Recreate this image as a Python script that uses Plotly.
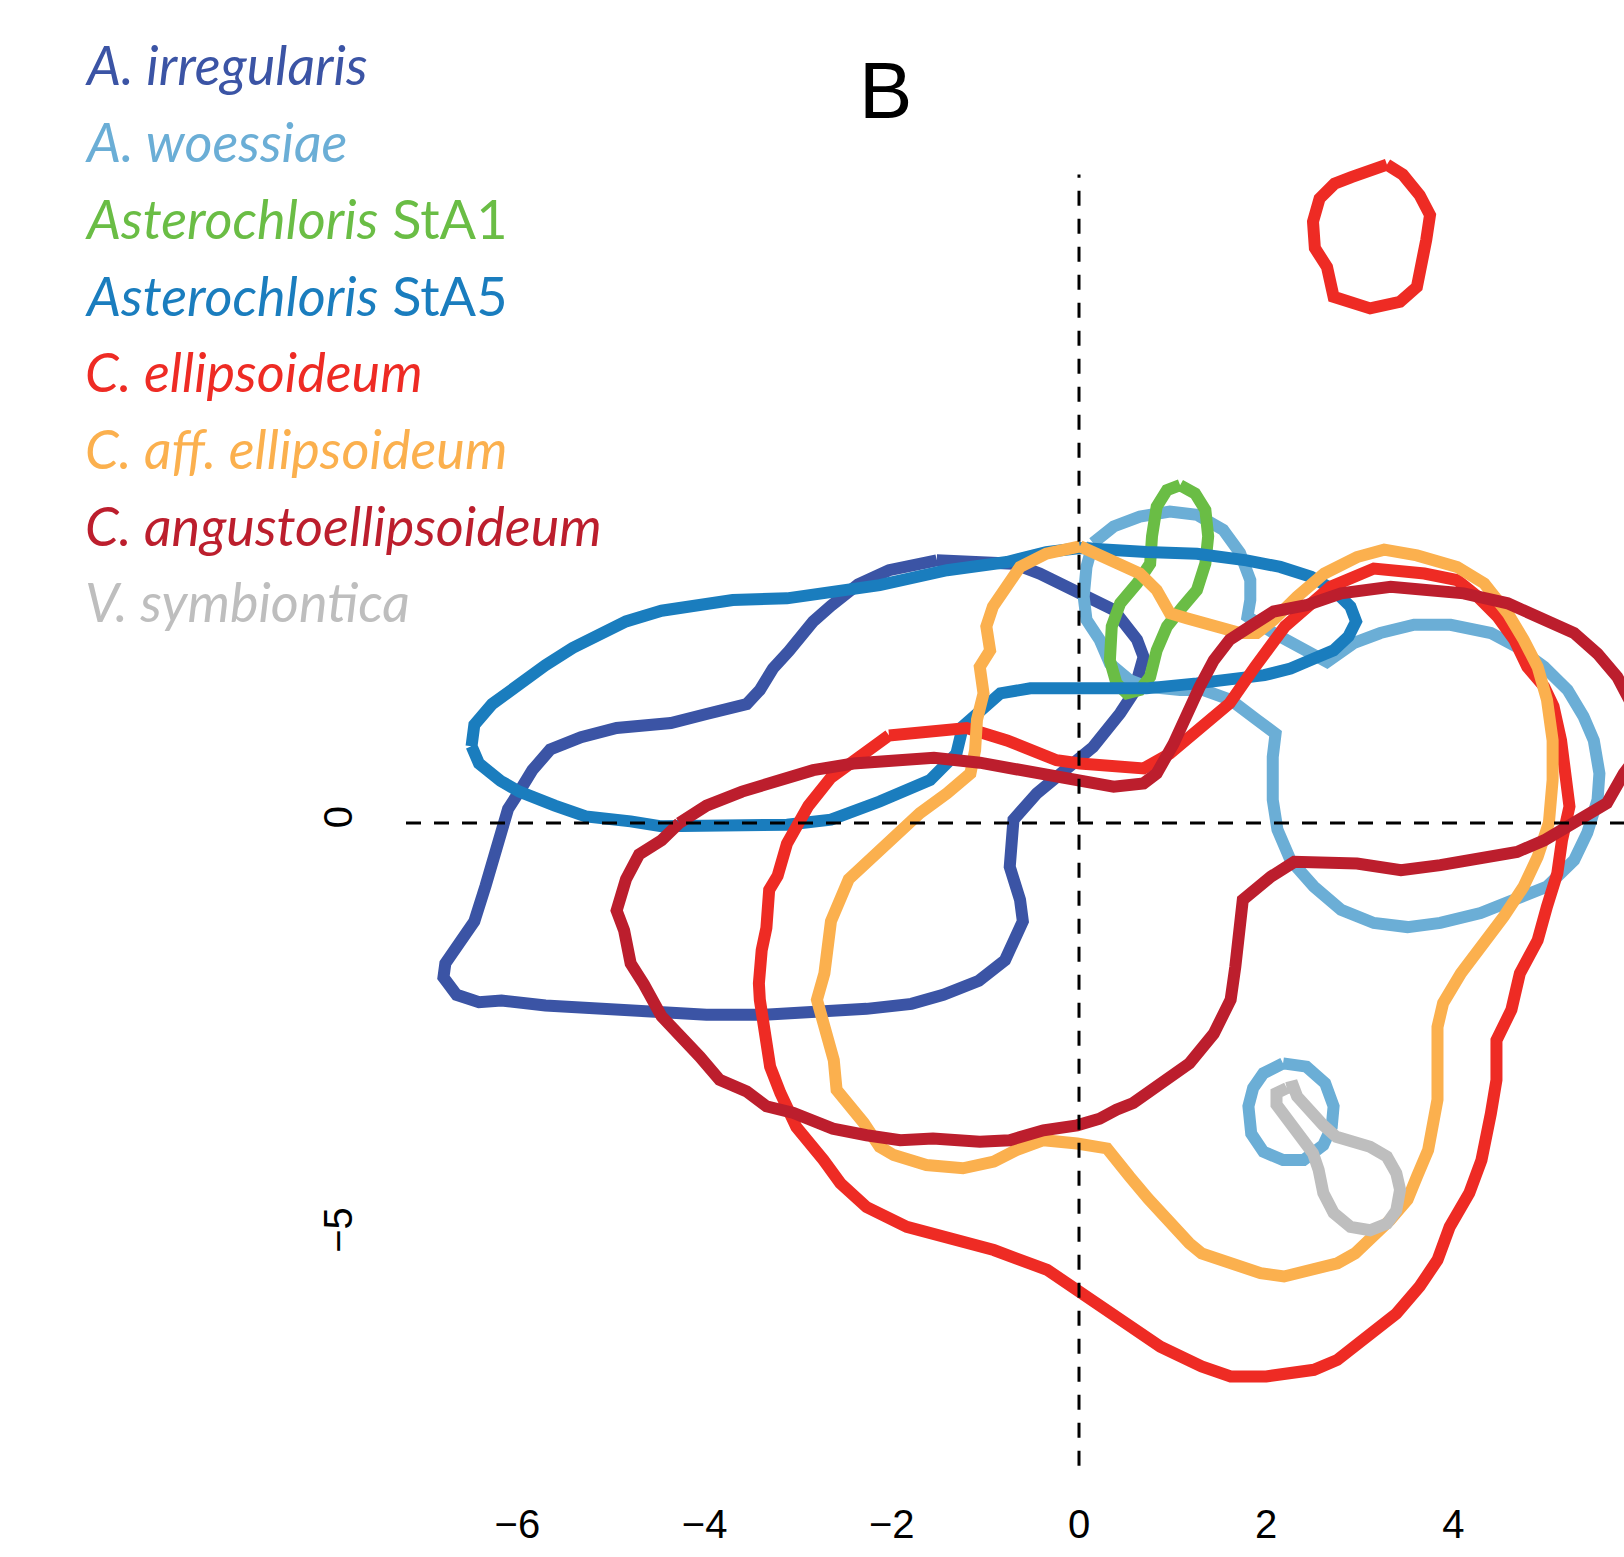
import plotly.graph_objects as go

# ---------------- data ----------------
species = ["A. irregularis", "A. woessiae", "Asterochloris StA1", "Asterochloris StA5",
           "C. ellipsoideum", "C. aff. ellipsoideum", "C. angustoellipsoideum", "V. symbiontica"]
legend_labels = ["<i>A. irregularis</i>", "<i>A. woessiae</i>", "<i>Asterochloris</i> StA1",
                 "<i>Asterochloris</i> StA5", "<i>C. ellipsoideum</i>", "<i>C. aff. ellipsoideum</i>",
                 "<i>C. angustoellipsoideum</i>", "<i>V. symbiontica</i>"]
colors = ["#3B54A5", "#6BAED6", "#6ABD45", "#1A7DBE", "#EE2B24", "#FBB04E", "#BC1E2D", "#BEBEBE"]

x_tick_vals = [-6, -4, -2, 0, 2, 4]
x_tick_text = ["\u22126", "\u22124", "\u22122", "0", "2", "4"]
y_tick_vals = [0, -5]
y_tick_text = ["0", "\u22125"]

a_irregularis_x = [-1.52, -0.70, -0.42, 0.01, 0.37, 0.62, 0.69, 0.58, 0.44, 0.15, -0.17, -0.45, -0.70, -0.74,
                   -0.63, -0.60, -0.79, -1.07, -1.45, -1.79, -2.27, -2.84, -3.36, -3.98, -4.55, -5.13, -5.70,
                   -6.17, -6.41, -6.65, -6.79, -6.77, -6.67, -6.56, -6.46, -6.34, -6.27, -6.18, -6.10, -5.98,
                   -5.84, -5.65, -5.51, -5.32, -4.94, -4.65, -4.36, -3.98, -3.79, -3.55, -3.41, -3.27, -3.10,
                   -2.84, -2.65, -2.36, -2.03, -1.52]
a_irregularis_y = [3.18, 3.14, 3.02, 2.78, 2.58, 2.22, 2.01, 1.57, 1.33, 0.92, 0.60, 0.36, 0.04, -0.53,
                   -0.93, -1.19, -1.66, -1.91, -2.08, -2.19, -2.25, -2.30, -2.32, -2.32, -2.29, -2.25, -2.21,
                   -2.15, -2.17, -2.08, -1.87, -1.70, -1.53, -1.36, -1.19, -0.76, -0.47, -0.08, 0.17, 0.38,
                   0.64, 0.89, 0.96, 1.04, 1.15, 1.19, 1.21, 1.32, 1.36, 1.44, 1.61, 1.87, 2.08,
                   2.44, 2.63, 2.89, 3.06, 3.18]

a_woessiae_x = [0.15, 0.37, 0.65, 0.97, 1.26, 1.54, 1.72, 1.83, 1.83, 1.80, 2.08, 2.44, 2.65, 2.94, 3.22,
                3.58, 3.97, 4.40, 4.68, 4.97, 5.22, 5.39, 5.50, 5.56, 5.54, 5.43, 5.29, 5.00, 4.68, 4.29,
                3.86, 3.51, 3.15, 2.80, 2.51, 2.26, 2.12, 2.07, 2.07, 2.10, 1.90, 1.62, 1.33, 1.08, 0.72,
                0.54, 0.33, 0.22, 0.08, 0.05, 0.08, 0.15]
a_woessiae_y = [3.39, 3.59, 3.71, 3.77, 3.73, 3.55, 3.27, 2.94, 2.70, 2.50, 2.30, 2.09, 1.95, 2.18, 2.30,
                2.40, 2.40, 2.30, 2.13, 1.89, 1.61, 1.29, 1.00, 0.60, 0.28, -0.12, -0.45, -0.77, -0.93, -1.09,
                -1.21, -1.26, -1.21, -1.05, -0.77, -0.45, -0.08, 0.28, 0.80, 1.08, 1.25, 1.49, 1.61, 1.61, 1.65,
                1.73, 1.93, 2.22, 2.46, 2.74, 3.10, 3.39]
a_woessiae_small_x = [2.18, 2.43, 2.63, 2.72, 2.70, 2.61, 2.40, 2.18, 1.97, 1.84, 1.81, 1.86, 1.97, 2.18]
a_woessiae_small_y = [-2.91, -2.95, -3.15, -3.43, -3.68, -3.90, -4.08, -4.08, -3.98, -3.76, -3.43, -3.21, -3.03, -2.91]

sta1_x = [1.08, 1.24, 1.35, 1.38, 1.35, 1.26, 1.11, 0.94, 0.83, 0.76, 0.65, 0.51, 0.40, 0.33, 0.35, 0.44,
          0.62, 0.76, 0.78, 0.83, 0.94, 1.08]
sta1_y = [4.09, 3.99, 3.79, 3.47, 3.14, 2.82, 2.62, 2.38, 2.09, 1.77, 1.61, 1.57, 1.69, 1.97, 2.38, 2.66,
          2.90, 3.14, 3.47, 3.83, 4.03, 4.09]

sta5_x = [-6.49, -6.46, -6.27, -5.98, -5.70, -5.41, -5.13, -4.84, -4.46, -4.08, -3.70, -3.12, -2.65, -2.13,
          -1.41, -0.77, -0.35, 0.01, 0.72, 1.26, 1.79, 2.15, 2.48, 2.72, 2.90, 2.96, 2.88, 2.72, 2.55, 2.26,
          1.98, 1.61, 1.26, 0.72, 0.01, -0.52, -0.84, -1.24, -1.31, -1.59, -2.13, -2.65, -3.12, -3.60, -4.08,
          -4.46, -4.79, -5.27, -5.60, -5.98, -6.18, -6.41, -6.49]
sta5_y = [0.93, 1.19, 1.44, 1.70, 1.91, 2.12, 2.29, 2.44, 2.57, 2.63, 2.70, 2.72, 2.78, 2.88,
          3.06, 3.16, 3.28, 3.33, 3.28, 3.26, 3.18, 3.10, 2.98, 2.82, 2.62, 2.44, 2.26, 2.09, 2.01, 1.87,
          1.79, 1.73, 1.69, 1.63, 1.61, 1.63, 1.57, 1.17, 0.84, 0.52, 0.26, 0.04, -0.02, -0.04, -0.06,
          -0.04, 0.02, 0.08, 0.21, 0.38, 0.51, 0.72, 0.93]

c_ellipsoideum_x = [-2.03, -1.60, -1.20, -0.77, -0.49, -0.24, 0.01, 0.37, 0.69, 0.97, 1.29, 1.61, 1.88, 2.20,
                    2.69, 3.15, 3.69, 4.04, 4.26, 4.47, 4.65, 4.79, 4.97, 5.07, 5.15, 5.22, 5.24, 5.16, 5.11,
                    5.00, 4.90, 4.71, 4.62, 4.46, 4.46, 4.40, 4.30, 4.17, 3.96, 3.83, 3.64, 3.39, 3.07, 2.76,
                    2.51, 2.00, 1.62, 1.31, 0.87, 0.62, 0.37, -0.01, -0.34, -0.91, -1.34, -1.84, -2.27, -2.55,
                    -2.73, -3.02, -3.19, -3.30, -3.41, -3.42, -3.39, -3.34, -3.31, -3.22, -3.12, -3.03, -2.89,
                    -2.65, -2.36, -2.03]
c_ellipsoideum_y = [1.06, 1.10, 1.15, 1.00, 0.88, 0.76, 0.72, 0.68, 0.66, 0.84, 1.13, 1.45, 1.89, 2.38,
                    2.86, 3.08, 3.02, 2.94, 2.74, 2.50, 2.22, 1.89, 1.65, 1.41, 1.00, 0.52, 0.20, -0.21, -0.61,
                    -1.01, -1.42, -1.82, -2.26, -2.63, -3.11, -3.52, -4.08, -4.48, -4.89, -5.29, -5.61, -5.94,
                    -6.22, -6.50, -6.62, -6.70, -6.70, -6.58, -6.34, -6.14, -5.94, -5.65, -5.41, -5.17, -5.05,
                    -4.89, -4.65, -4.36, -4.08, -3.68, -3.27, -2.95, -2.14, -1.94, -1.54, -1.27, -0.81, -0.64,
                    -0.25, -0.08, 0.21, 0.55, 0.81, 1.06]
c_ellipsoideum_island_x = [3.29, 3.46, 3.64, 3.75, 3.71, 3.66, 3.61, 3.43, 3.11, 2.72, 2.65, 2.52, 2.50, 2.57,
                           2.73, 2.91, 3.11, 3.29]
c_ellipsoideum_island_y = [7.97, 7.85, 7.60, 7.36, 7.06, 6.78, 6.49, 6.31, 6.23, 6.37, 6.73, 6.96, 7.28, 7.56,
                           7.74, 7.82, 7.88, 7.97]

c_aff_x = [0.01, 0.37, 0.65, 0.83, 0.97, 1.15, 1.44, 1.72, 1.90, 2.08, 2.33, 2.62, 2.97, 3.26, 3.61, 4.04,
           4.33, 4.58, 4.75, 4.90, 5.00, 5.06, 5.06, 5.02, 4.90, 4.75, 4.54, 4.36, 4.08, 3.89, 3.83, 3.83,
           3.73, 3.61, 3.51, 3.32, 3.14, 2.95, 2.76, 2.51, 2.19, 1.94, 1.62, 1.31, 1.18, 0.93, 0.74, 0.54,
           0.30, -0.02, -0.38, -0.67, -0.91, -1.24, -1.63, -1.98, -2.13, -2.30, -2.48, -2.59, -2.62, -2.70,
           -2.80, -2.72, -2.69, -2.65, -2.46, -2.27, -1.98, -1.70, -1.41, -1.16, -1.11, -1.09, -1.02, -1.06,
           -1.06, -0.95, -0.99, -0.92, -0.77, -0.63, -0.35, 0.01]
c_aff_y = [3.35, 3.18, 3.02, 2.82, 2.54, 2.48, 2.38, 2.30, 2.30, 2.46, 2.74, 3.02, 3.22, 3.31, 3.24, 3.10,
           2.90, 2.54, 2.22, 1.89, 1.49, 1.00, 0.52, 0.00, -0.41, -0.77, -1.13, -1.38, -1.82, -2.18, -2.47, -3.35,
           -3.96, -4.28, -4.56, -4.81, -5.01, -5.21, -5.33, -5.41, -5.49, -5.45, -5.33, -5.21, -5.09, -4.81, -4.55,
           -4.28, -3.94, -3.88, -3.84, -3.96, -4.10, -4.18, -4.14, -4.02, -3.92, -3.63, -3.39, -3.23, -2.87,
           -2.55, -2.14, -1.82, -1.54, -1.19, -0.68, -0.47, -0.17, 0.12, 0.36, 0.60, 0.88, 1.25, 1.57, 1.77,
           1.89, 2.09, 2.38, 2.62, 2.90, 3.10, 3.26, 3.35]

c_angusto_x = [-4.27, -3.98, -3.60, -3.22, -2.84, -2.41, -1.93, -1.55, -1.06, -0.63, -0.24, 0.01, 0.37, 0.69,
               0.83, 1.01, 1.15, 1.29, 1.44, 1.61, 1.83, 2.08, 2.44, 2.80, 3.33, 3.69, 4.11, 4.58, 4.93, 5.29,
               5.54, 5.75, 5.90, 5.97, 5.92, 5.82, 5.64, 5.29, 4.97, 4.68, 4.40, 3.86, 3.44, 2.97, 2.30, 2.05,
               1.75, 1.72, 1.67, 1.62, 1.56, 1.44, 1.18, 0.76, 0.58, 0.40, 0.22, -0.02, -0.38, -0.74, -1.06,
               -1.56, -1.91, -2.27, -2.63, -3.05, -3.34, -3.55, -3.84, -4.05, -4.46, -4.65, -4.79, -4.86, -4.94,
               -4.84, -4.70, -4.46, -4.27]
c_angusto_y = [0.00, 0.21, 0.38, 0.51, 0.64, 0.72, 0.75, 0.79, 0.73, 0.64, 0.58, 0.54, 0.44, 0.48,
               0.60, 0.96, 1.33, 1.65, 1.97, 2.22, 2.38, 2.56, 2.64, 2.78, 2.86, 2.82, 2.78, 2.66, 2.50, 2.30,
               2.05, 1.77, 1.45, 1.05, 0.75, 0.60, 0.24, 0.00, -0.21, -0.35, -0.41, -0.51, -0.57, -0.49, -0.47,
               -0.65, -0.93, -1.40, -1.74, -2.14, -2.26, -2.55, -2.91, -3.23, -3.39, -3.47, -3.58, -3.66, -3.72,
               -3.84, -3.86, -3.82, -3.84, -3.78, -3.70, -3.51, -3.43, -3.25, -3.11, -2.83, -2.34, -1.95, -1.70,
               -1.30, -1.06, -0.68, -0.38, -0.21, 0.00]

v_symbiontica_x = [2.22, 2.11, 2.11, 2.24, 2.40, 2.50, 2.56, 2.61, 2.72, 2.90, 3.11, 3.29, 3.39, 3.43, 3.39,
                   3.29, 3.11, 2.93, 2.75, 2.61, 2.45, 2.33, 2.29, 2.22]
v_symbiontica_y = [-3.21, -3.27, -3.41, -3.60, -3.80, -4.00, -4.20, -4.48, -4.72, -4.89, -4.93, -4.85, -4.69,
                   -4.44, -4.24, -4.04, -3.92, -3.86, -3.80, -3.66, -3.47, -3.31, -3.19, -3.21]

contours = [
    [(a_irregularis_x, a_irregularis_y)],
    [(a_woessiae_x, a_woessiae_y), (a_woessiae_small_x, a_woessiae_small_y)],
    [(sta1_x, sta1_y)],
    [(sta5_x, sta5_y)],
    [(c_ellipsoideum_x, c_ellipsoideum_y), (c_ellipsoideum_island_x, c_ellipsoideum_island_y)],
    [(c_aff_x, c_aff_y)],
    [(c_angusto_x, c_angusto_y)],
    [(v_symbiontica_x, v_symbiontica_y)],
]

# ---------------- figure ----------------
W, H = 1624, 1557
ML, MR, MT, MB = 406, 0, 140, 91
PX_X, PX_Y = 93.6, 82.6          # pixels per data unit
X0_PIX, Y0_PIX = 1079, 823       # pixel position of data origin
x_range = [(ML - X0_PIX) / PX_X, (W - MR - X0_PIX) / PX_X]
y_range = [-(H - MB - Y0_PIX) / PX_Y, (Y0_PIX - MT) / PX_Y]

fig = go.Figure()
for name, col, parts in zip(species, colors, contours):
    for px, py in parts:
        fig.add_trace(go.Scatter(x=px, y=py, mode="lines", name=name, showlegend=False,
                                 line=dict(color=col, width=12), hoverinfo="skip"))

# reference lines (dashed) at x = 0 and y = 0
fig.add_shape(type="line", xref="paper", yref="y", x0=0, x1=1, y0=0, y1=0,
              line=dict(color="black", width=3, dash="15px,13px"), layer="above")
fig.add_shape(type="line", xref="x", yref="y", x0=0, x1=0, y0=-7.78, y1=7.85,
              line=dict(color="black", width=3, dash="15px,13px"), layer="above")

# legend as coloured text
plot_h = H - MT - MB
plot_w = W - ML - MR
for i, (lab, col) in enumerate(zip(legend_labels, colors)):
    ypix = 65 + i * 76.7
    fig.add_annotation(text=lab, xref="paper", yref="paper",
                       x=(83 - ML) / plot_w, y=(H - MB - ypix) / plot_h,
                       xanchor="left", yanchor="middle", showarrow=False,
                       font=dict(family="Lato, Open Sans, sans-serif", size=54, color=col))

fig.add_annotation(text="B", xref="paper", yref="paper",
                   x=(885 - ML) / plot_w, y=(H - MB - 91) / plot_h,
                   xanchor="center", yanchor="middle", showarrow=False,
                   font=dict(family="Liberation Sans, Arial, sans-serif", size=80, color="black"))

fig.update_layout(
    width=W, height=H, margin=dict(l=ML, r=MR, t=MT, b=MB, pad=0),
    paper_bgcolor="white", plot_bgcolor="white", showlegend=False,
    font=dict(family="Liberation Sans, Arial, sans-serif", color="black"),
)
fig.update_xaxes(range=x_range, tickvals=x_tick_vals, ticktext=x_tick_text,
                 showgrid=False, zeroline=False, showline=False, ticks="",
                 ticklabelstandoff=31, tickfont=dict(size=40, family="Liberation Sans, Arial, sans-serif"))
fig.update_yaxes(range=y_range, tickvals=y_tick_vals, ticktext=y_tick_text, tickangle=-90,
                 showgrid=False, zeroline=False, showline=False, ticks="",
                 ticklabelstandoff=45, tickfont=dict(size=40, family="Liberation Sans, Arial, sans-serif"))

fig.write_html("out.html")
